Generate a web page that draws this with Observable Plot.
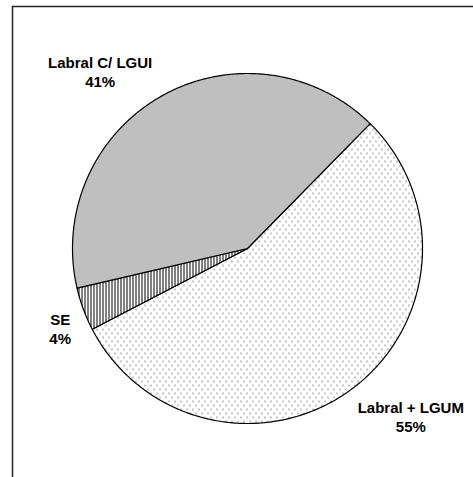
<!DOCTYPE html>
<html>
<head>
<meta charset="utf-8">
<script src="https://cdn.jsdelivr.net/npm/d3@7"></script>
<script src="https://cdn.jsdelivr.net/npm/@observablehq/plot@0.6"></script>
<style>
  body { margin: 0; background: #fff; }
  #chart svg { overflow: hidden; }
</style>
</head>
<body>
<div id="chart"></div>
<script>
// Share of each category (percent), drawn clockwise
const categories = ["Labral + LGUM", "SE", "Labral C/ LGUI"];
const shares = [55, 4, 41];
const patterns = ["p-dots", "p-vlines", "p-gray"];

// Layout: first slice starts at 44.5° clockwise from 12 o'clock
const startDeg = 44.5;
// Label nudges (px) from the mid-angle anchor
const labelNudge = [[28, -15], [26, 1], [-36, 21]];

const start = startDeg * Math.PI / 180;
const arcs = d3.pie().sort(null).startAngle(start).endAngle(start + 2 * Math.PI)(shares);

// Closed outline per slice: centre, then the arc sampled every half degree
const slices = arcs.map((a, i) => {
  const pts = [{slice: i, x: 0, y: 0}];
  const n = Math.max(2, Math.ceil((a.endAngle - a.startAngle) / (Math.PI / 360)));
  for (let k = 0; k <= n; ++k) {
    const t = a.startAngle + (a.endAngle - a.startAngle) * k / n;
    pts.push({slice: i, x: Math.sin(t), y: Math.cos(t)});
  }
  return pts;
});

const labelRows = arcs.map((a, i) => {
  const m = (a.startAngle + a.endAngle) / 2;
  return {i, x: 1.3 * Math.sin(m), y: 1.3 * Math.cos(m), text: `${categories[i]}\n${shares[i]}%`};
});

// Fill patterns
function defs() {
  const d = d3.create("svg:defs");
  const dots = d.append("pattern").attr("id", "p-dots").attr("patternUnits", "userSpaceOnUse")
    .attr("width", 6).attr("height", 8);
  dots.append("rect").attr("width", 6).attr("height", 8).attr("fill", "#fff");
  dots.append("rect").attr("x", 0).attr("y", 0).attr("width", 1).attr("height", 2).attr("fill", "#8a8a8a");
  dots.append("rect").attr("x", 3).attr("y", 4).attr("width", 1).attr("height", 2).attr("fill", "#8a8a8a");

  const gray = d.append("pattern").attr("id", "p-gray").attr("patternUnits", "userSpaceOnUse")
    .attr("width", 2).attr("height", 2);
  gray.append("rect").attr("width", 2).attr("height", 2).attr("fill", "#e4e4e4");
  gray.append("rect").attr("x", 0).attr("y", 0).attr("width", 1).attr("height", 1).attr("fill", "#9a9a9a");
  gray.append("rect").attr("x", 1).attr("y", 1).attr("width", 1).attr("height", 1).attr("fill", "#9a9a9a");

  const vl = d.append("pattern").attr("id", "p-vlines").attr("patternUnits", "userSpaceOnUse")
    .attr("width", 3).attr("height", 3);
  vl.append("rect").attr("width", 3).attr("height", 3).attr("fill", "#fff");
  vl.append("rect").attr("x", 0).attr("y", 0).attr("width", 1).attr("height", 3).attr("fill", "#000");
  return d.node();
}

const chart = Plot.plot({
  width: 473,
  height: 477,
  margin: 0,
  style: {fontFamily: "'Liberation Sans', Arial, sans-serif", background: "#fff"},
  x: {domain: [-1, 1], range: [72, 422], axis: null},
  y: {domain: [-1, 1], range: [423, 73], axis: null},
  marks: [
    defs,
    Plot.frame({stroke: "#222", strokeWidth: 1.5, insetLeft: 12, insetTop: 6, insetRight: -20, insetBottom: -20}),
    ...slices.map((pts, i) => Plot.line(pts, {
      x: "x", y: "y", curve: "linear-closed",
      fill: `url(#${patterns[i]})`, stroke: "#000", strokeWidth: 1.2, strokeLinejoin: "round"
    })),
    ...labelRows.map(r => Plot.text([r], {
      x: "x", y: "y", text: "text",
      dx: labelNudge[r.i][0], dy: labelNudge[r.i][1],
      fontSize: 15, fontWeight: "bold", lineHeight: 1.3, fill: "#000", textAnchor: "middle"
    }))
  ]
});

document.getElementById("chart").append(chart);
</script>
</body>
</html>
